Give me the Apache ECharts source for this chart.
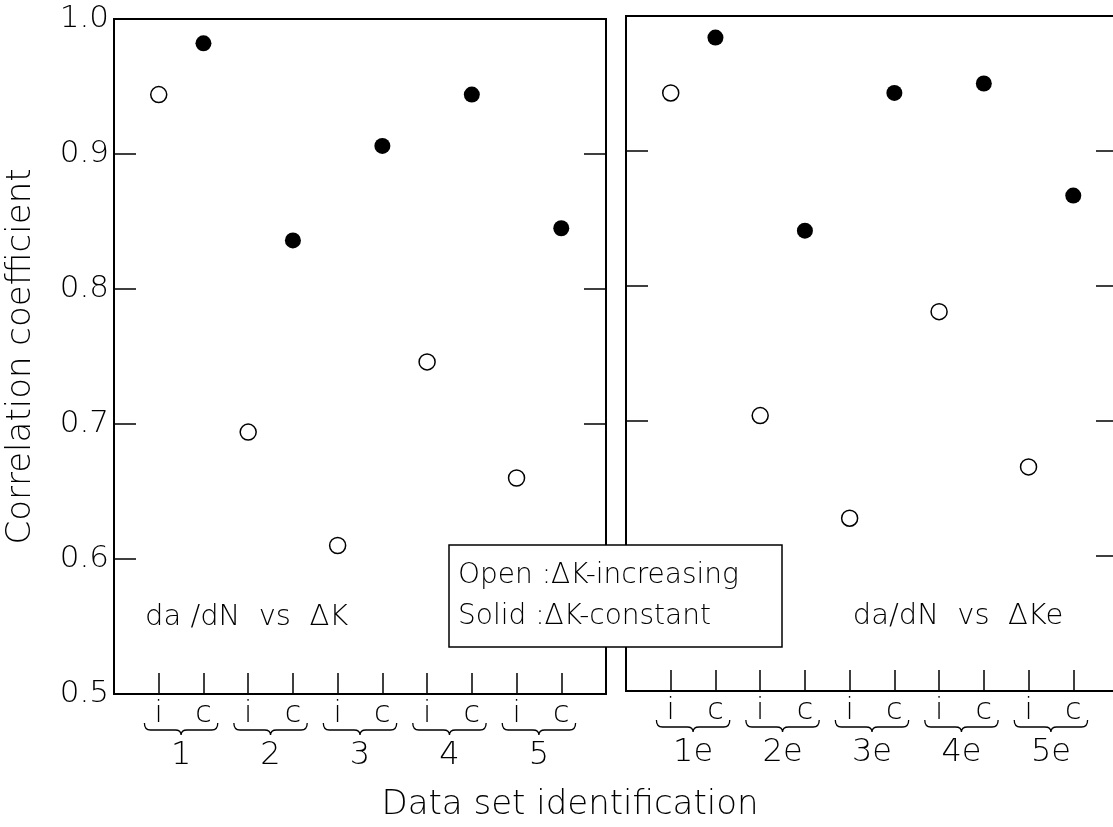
<!DOCTYPE html>
<html>
<head>
<meta charset="utf-8">
<script src="https://cdn.jsdelivr.net/npm/echarts@6/dist/echarts.min.js"></script>
<style>html,body{margin:0;padding:0;background:#fff;}#c{width:1113px;height:827px;}</style>
</head>
<body>
<div id="c"></div>
<script>
// ---- data ----
const groupsLeft = ['1', '2', '3', '4', '5'];
const groupsRight = ['1e', '2e', '3e', '4e', '5e'];
const subLabels = ['i', 'c'];
const yTicks = [0.5, 0.6, 0.7, 0.8, 0.9, 1.0];
// da/dN vs ΔK
const leftOpen  = [0.944, 0.694, 0.610, 0.746, 0.660];   // ΔK-increasing (i)
const leftSolid = [0.982, 0.836, 0.906, 0.944, 0.845];   // ΔK-constant (c)
// da/dN vs ΔKe
const rightOpen  = [0.943, 0.704, 0.628, 0.781, 0.666];
const rightSolid = [0.984, 0.841, 0.943, 0.950, 0.867];

const FONT = "'DejaVu Sans'";
const WT = 200;
const font = (s) => WT + ' ' + s + 'px ' + FONT;

function pts(vals, offset) { return vals.map((v, k) => [2 * k + offset, v]); }

const chart = echarts.init(document.getElementById('c'), null, {renderer: 'canvas'});

function xAxisFor(gi) {
  return {
    gridIndex: gi, type: 'value', min: 0, max: 11, interval: 1, position: 'bottom',
    axisLine: {show: true, lineStyle: {color: '#000', width: 2}},
    axisTick: {show: true, inside: true, length: 21, lineStyle: {color: '#000', width: 1.5}},
    axisLabel: {
      show: true, margin: 5, color: '#000', fontFamily: FONT, fontWeight: WT, fontSize: 30,
      formatter: v => (v >= 1 && v <= 10) ? subLabels[(Math.round(v) - 1) % 2] : ''
    },
    splitLine: {show: false}
  };
}
function yAxisFor(gi, pos, labels) {
  const a = {
    gridIndex: gi, type: 'value', min: yTicks[0], max: yTicks[yTicks.length - 1], interval: 0.1, position: pos,
    axisLine: {show: true, lineStyle: {color: '#000', width: 2}},
    axisTick: {show: true, inside: true, length: 22, lineStyle: {color: '#000', width: 1.5}},
    axisLabel: {show: labels, margin: 5, color: '#000', fontFamily: FONT, fontWeight: WT, fontSize: 31,
      formatter: v => v.toFixed(1)},
    splitLine: {show: false}
  };
  if (labels) {
    a.name = 'Correlation coefficient';
    a.nameLocation = 'middle';
    a.nameRotate = 90;
    a.nameGap = 76;
    a.nameTextStyle = {color: '#000', fontFamily: FONT, fontWeight: WT, fontSize: 34};
  }
  return a;
}
function braceSeries(gi, groups) {
  return {
    type: 'custom', xAxisIndex: gi, yAxisIndex: gi * 2, clip: false, silent: true,
    data: groups.map((g, k) => [2 * k + 1.5, yTicks[0]]),
    renderItem: function (params, api) {
      const p = api.coord([api.value(0), api.value(1)]);
      const unit = api.size([1, 0])[0];
      const half = unit * 0.82;
      const xm = p[0], x0 = xm - half, x1 = xm + half;
      const y0 = p[1] + 29, y1 = p[1] + 36, y2 = p[1] + 41;
      const d = 'M' + x0 + ',' + y0 + ' Q' + x0 + ',' + y1 + ' ' + (x0 + 6) + ',' + y1 +
        ' L' + (xm - 6) + ',' + y1 + ' Q' + xm + ',' + y1 + ' ' + xm + ',' + y2 +
        ' Q' + xm + ',' + y1 + ' ' + (xm + 6) + ',' + y1 +
        ' L' + (x1 - 6) + ',' + y1 + ' Q' + x1 + ',' + y1 + ' ' + x1 + ',' + y0;
      return {
        type: 'group',
        children: [
          {type: 'path', shape: {pathData: d}, style: {stroke: '#000', fill: 'none', lineWidth: 1.3}},
          {type: 'text', style: {text: groups[params.dataIndex], x: xm, y: p[1] + 62,
            align: 'center', verticalAlign: 'middle', font: font(32), fill: '#000'}}
        ]
      };
    }
  };
}
function scatter(gi, data, solid) {
  return {
    type: 'scatter', xAxisIndex: gi, yAxisIndex: gi * 2, data: data,
    symbol: 'circle', symbolSize: 16, z: 5,
    itemStyle: solid ? {color: '#000', borderColor: '#000', borderWidth: 0, opacity: 1}
                     : {color: '#fff', borderColor: '#000', borderWidth: 1.5, opacity: 1}
  };
}

const option = {
  animation: false,
  backgroundColor: '#fff',
  grid: [
    {left: 114, top: 19, width: 492, height: 675, show: true, borderColor: '#000', borderWidth: 2,
     backgroundColor: 'transparent', containLabel: false, outerBoundsMode: 'none'},
    {left: 626, top: 16, width: 492, height: 675, show: true, borderColor: '#000', borderWidth: 2,
     backgroundColor: 'transparent', containLabel: false, outerBoundsMode: 'none'}
  ],
  xAxis: [xAxisFor(0), xAxisFor(1)],
  yAxis: [yAxisFor(0, 'left', true), yAxisFor(0, 'right', false), yAxisFor(1, 'left', false), yAxisFor(1, 'right', false)],
  series: [
    scatter(0, pts(leftOpen, 1), false),
    scatter(0, pts(leftSolid, 2), true),
    scatter(1, pts(rightOpen, 1), false),
    scatter(1, pts(rightSolid, 2), true),
    braceSeries(0, groupsLeft),
    braceSeries(1, groupsRight)
  ],
  graphic: [
    {type: 'text', x: 145, y: 617, z: 50, style: {text: 'da /dN  vs  ΔK', font: font(29), fill: '#000', verticalAlign: 'middle'}},
    {type: 'text', x: 958, y: 616, z: 50, style: {text: 'da/dN  vs  ΔKe', font: font(29), fill: '#000', align: 'center', verticalAlign: 'middle'}},
    {type: 'rect', z: 100, shape: {x: 449, y: 545, width: 333, height: 102}, style: {fill: '#fff', stroke: '#000', lineWidth: 1.5}},
    {type: 'text', z: 101, x: 458, y: 576, style: {text: 'Open :ΔK-increasing', font: font(28), fill: '#000', verticalAlign: 'middle'}},
    {type: 'text', z: 101, x: 458, y: 617, style: {text: 'Solid :ΔK-constant', font: font(28), fill: '#000', verticalAlign: 'middle'}},
    {type: 'text', z: 50, x: 570, y: 805, style: {text: 'Data set identification', font: font(34), fill: '#000', align: 'center', verticalAlign: 'middle'}}
  ]
};
chart.setOption(option);
</script>
</body>
</html>
